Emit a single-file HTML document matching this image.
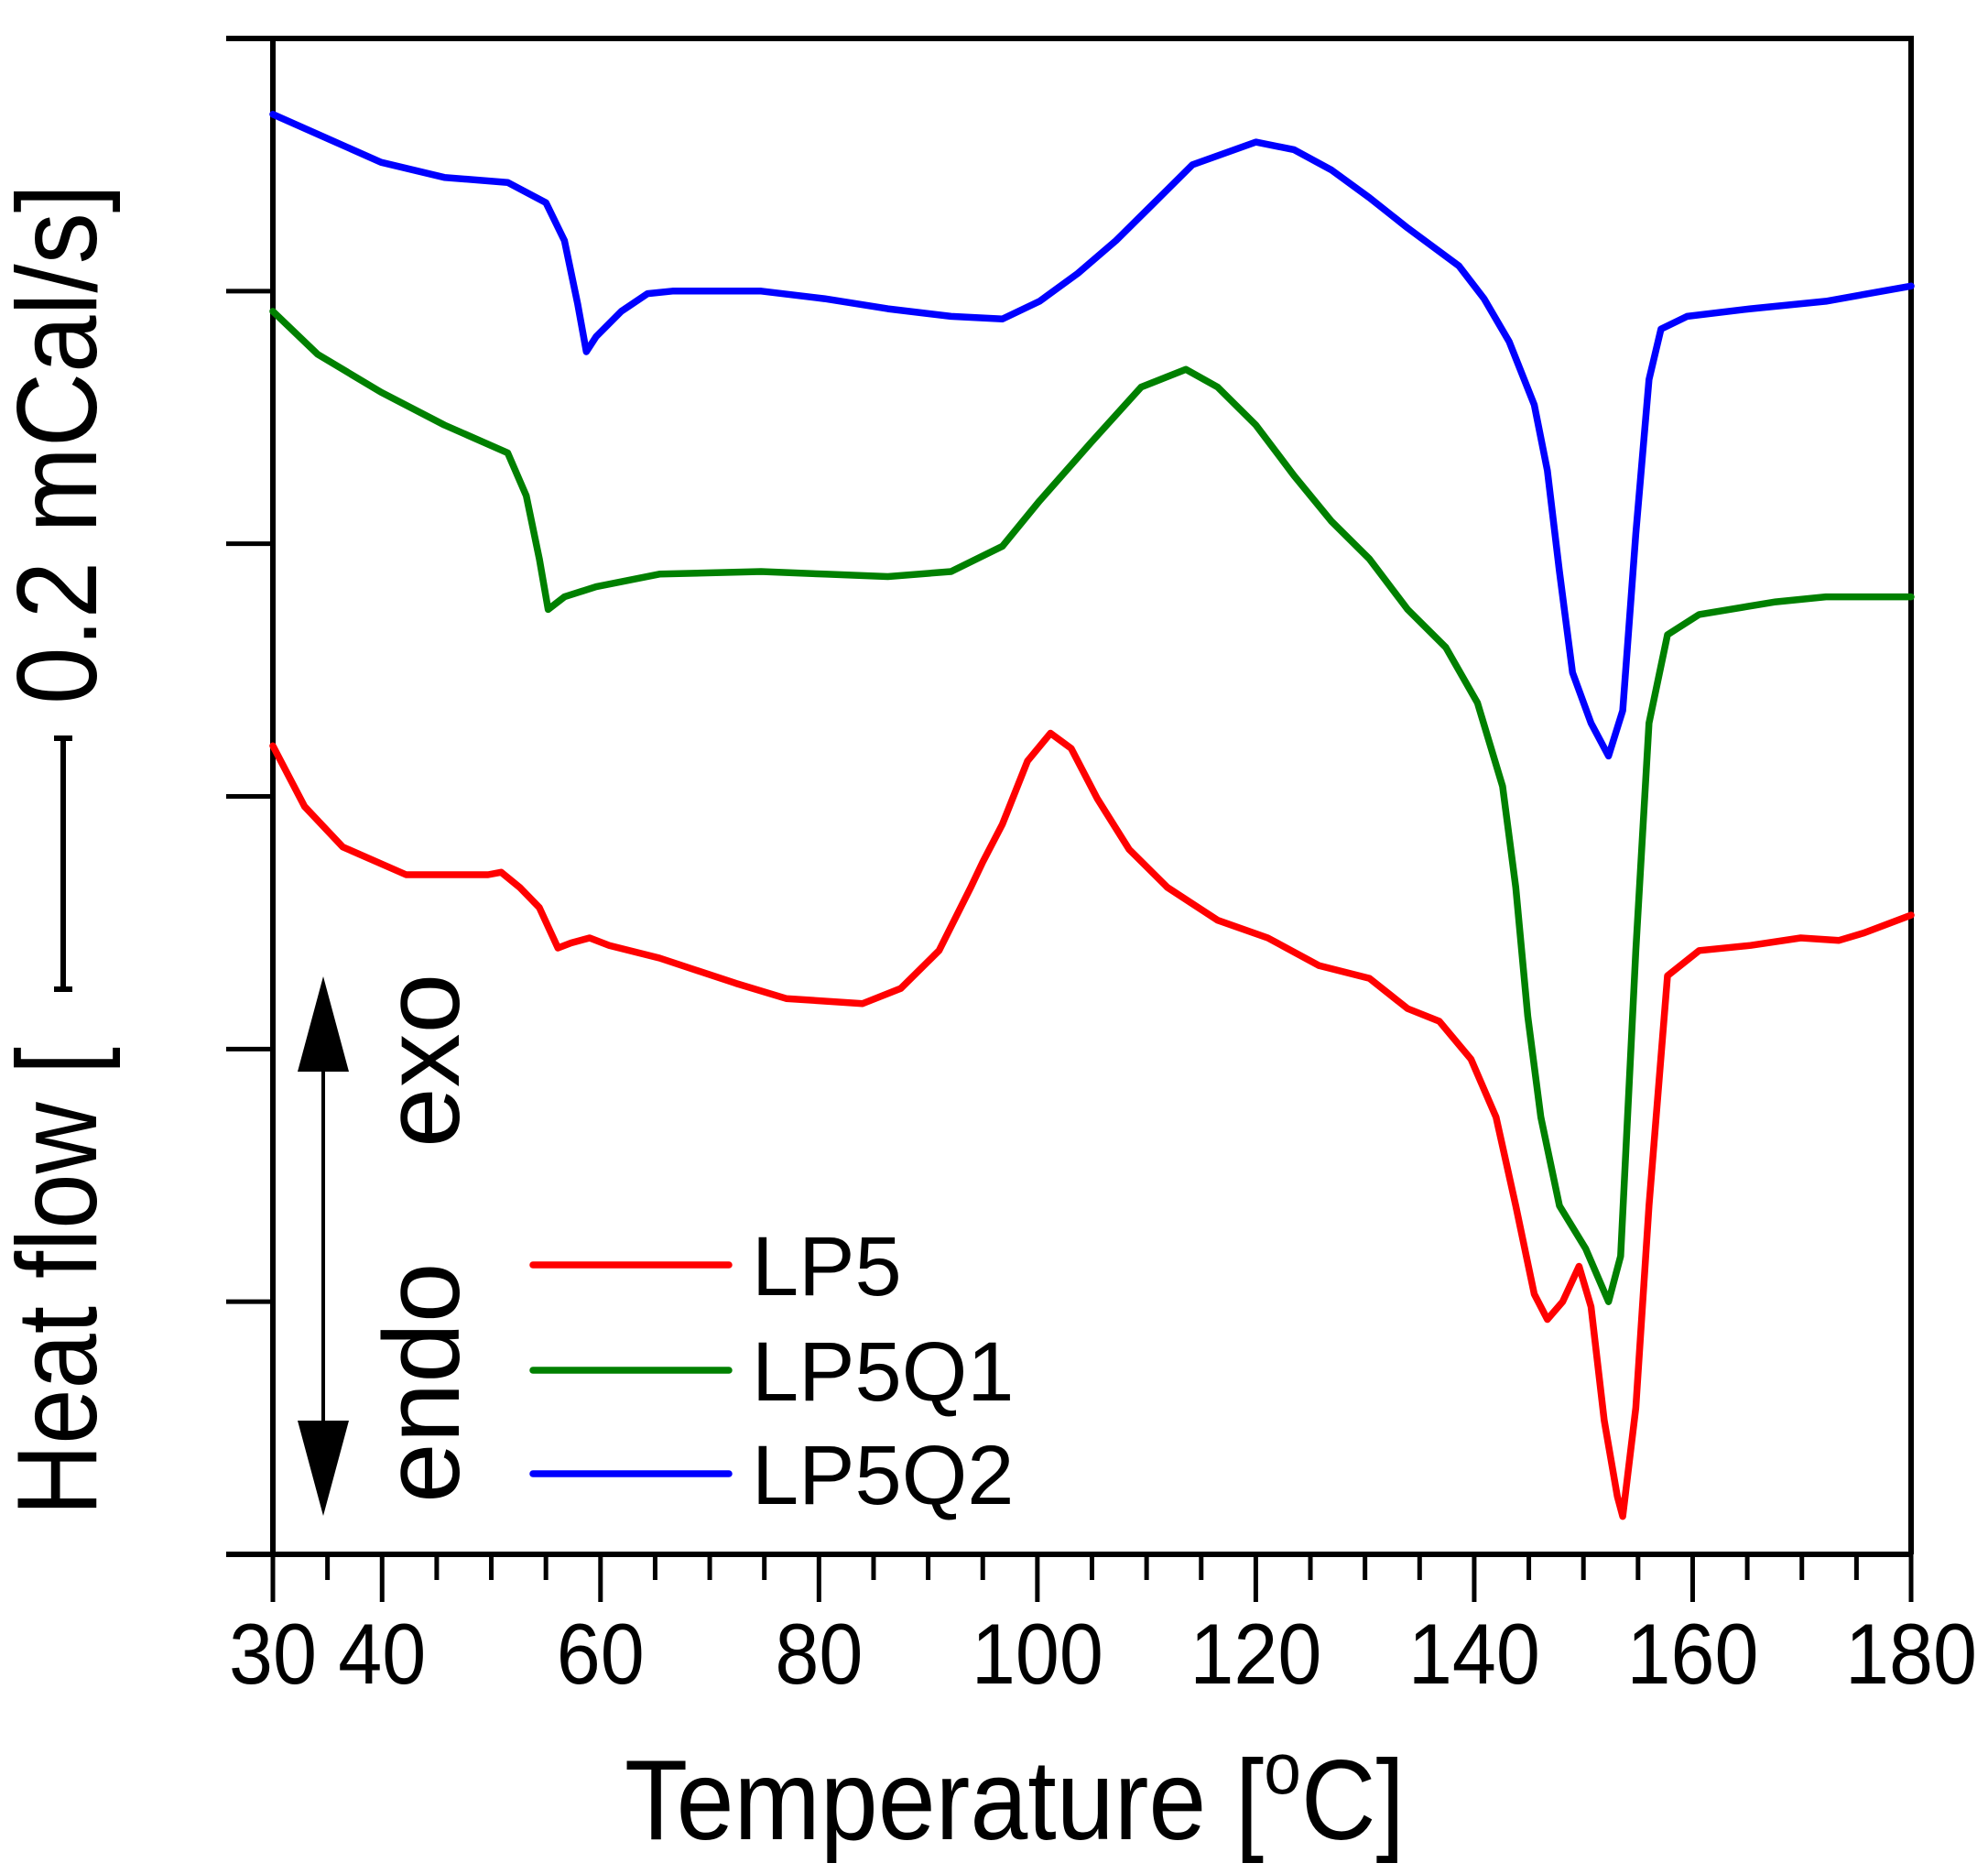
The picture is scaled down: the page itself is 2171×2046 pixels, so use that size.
<!DOCTYPE html>
<html><head><meta charset="utf-8"><style>
html,body{margin:0;padding:0;background:#fff;}
svg{display:block;}
text{font-family:"Liberation Sans",Arial,sans-serif;fill:#000;}
</style></head>
<body>
<svg id="chart" width="2171" height="2046" viewBox="0 0 2171 2046" xmlns="http://www.w3.org/2000/svg">
<g id="axes"></g>
<g id="series"></g>
<g id="labels"></g>
</svg>
<script>
const xTickMajor = [30,40,60,80,100,120,140,160,180];
const xTickLabels = ["30","40","60","80","100","120","140","160","180"];
const yTicks = [0,1,2,3,4,5,6];

const lp5T = [30,32.9,36.4,42.2,49.7,50.9,52.6,54.4,56.1,57.3,59.0,60.8,65.4,72.4,77.0,84.0,87.5,91.0,93.9,95.0,96.8,99.1,101.2,103.1,105.5,108.4,111.9,116.5,121.1,125.8,130.4,133.9,136.8,139.7,142.0,143.8,145.5,146.7,148.1,149.6,150.7,151.9,153.1,153.6,154.8,156.0,157.7,160.6,165.3,169.9,173.4,175.7,180];
const lp5V = [3.20,2.96,2.80,2.69,2.69,2.70,2.64,2.56,2.40,2.42,2.44,2.41,2.36,2.26,2.20,2.18,2.24,2.39,2.64,2.74,2.89,3.14,3.25,3.19,2.99,2.79,2.64,2.51,2.44,2.33,2.28,2.16,2.11,1.96,1.73,1.38,1.03,0.93,1.00,1.14,0.98,0.53,0.23,0.15,0.58,1.38,2.29,2.39,2.41,2.44,2.43,2.46,2.53];

const lp5q1T = [30,34.1,39.9,45.7,51.5,53.2,54.4,55.2,56.7,59.6,65.4,74.7,80.5,86.3,92.1,96.8,100.2,104.9,109.5,113.6,116.5,120.0,123.5,126.9,130.4,133.9,137.4,140.3,142.6,143.8,144.9,146.1,147.8,150.2,152.3,153.4,154.8,156.0,157.7,160.6,167.6,172.2,180];
const lp5q1V = [4.92,4.75,4.60,4.47,4.36,4.19,3.94,3.74,3.79,3.83,3.88,3.89,3.88,3.87,3.89,3.99,4.17,4.40,4.62,4.69,4.62,4.47,4.27,4.09,3.94,3.74,3.59,3.37,3.04,2.64,2.13,1.73,1.38,1.21,1.00,1.18,2.39,3.29,3.64,3.72,3.77,3.79,3.79];

const lp5q2T = [30,35.2,39.9,45.7,51.5,55.0,56.7,57.9,58.7,59.6,61.9,64.3,66.6,74.7,80.5,86.3,92.1,96.8,100.2,103.7,107.2,110.7,114.2,120.0,123.5,126.9,130.4,133.9,138.6,140.9,143.2,145.5,146.7,147.8,149.0,150.7,152.3,153.6,154.8,156.0,157.1,159.5,165.3,172.2,180];
const lp5q2V = [5.70,5.60,5.51,5.45,5.43,5.35,5.20,4.95,4.76,4.82,4.92,4.99,5.00,5.00,4.97,4.93,4.90,4.89,4.96,5.07,5.20,5.35,5.50,5.59,5.56,5.48,5.37,5.25,5.10,4.97,4.80,4.55,4.29,3.89,3.49,3.29,3.16,3.34,4.04,4.65,4.85,4.90,4.93,4.96,5.02];

const seriesNames = ["LP5","LP5Q1","LP5Q2"];
const seriesColors = ["#ff0000","#008000","#0000ff"];

const L=298,R=2087,T0=42,B=1697;
function xS(t){return L+(t-30)*(R-L)/150;}
function yS(v){return B-v*(B-T0)/6;}
const NS="http://www.w3.org/2000/svg";
function mk(tag,parent,attrs){const e=document.createElementNS(NS,tag);for(const k in attrs)e.setAttribute(k,attrs[k]);parent.appendChild(e);return e;}

const axes=document.getElementById('axes');
let frame=mk('path',axes,{d:`M247 ${T0} H${R} V${B} M${L} ${T0} V${B} M247 ${B} H${R}`,stroke:'#000','stroke-width':6,fill:'none'});


yTicks.forEach(v=>{const t=mk('line',axes,{x1:247,x2:L,y1:yS(v),y2:yS(v),stroke:'#000','stroke-width':5});

});
for(let t=35;t<180;t+=5){ if(xTickMajor.includes(t))continue;
 const e=mk('line',axes,{x1:xS(t),x2:xS(t),y1:B,y2:B+28,stroke:'#000','stroke-width':5});
 
 }
xTickMajor.forEach((t,i)=>{const e=mk('line',axes,{x1:xS(t),x2:xS(t),y1:B,y2:B+52,stroke:'#000','stroke-width':5});
 
 
 const lb=mk('text',axes,{x:xS(t),y:1838,'text-anchor':'middle','font-size':94,textLength:xTickLabels[i].length*48,lengthAdjust:'spacingAndGlyphs'});
 lb.textContent=xTickLabels[i];
 
 });

const ser=document.getElementById('series');
[[lp5T,lp5V],[lp5q1T,lp5q1V],[lp5q2T,lp5q2V]].forEach((d,i)=>{
 const pts=d[0].map((t,j)=>xS(t).toFixed(1)+','+yS(d[1][j]).toFixed(1)).join(' ');
 const p=mk('polyline',ser,{points:pts,fill:'none',stroke:seriesColors[i],'stroke-width':7.5,'stroke-linejoin':'round','stroke-linecap':'round'});
 
 
});

const lab=document.getElementById('labels');
const legY=[1381,1496,1609];
const legendOrder=[0,1,2];
legendOrder.forEach((s,i)=>{
 const l=mk('line',lab,{x1:582,x2:796,y1:legY[i],y2:legY[i],stroke:seriesColors[s],'stroke-width':7.5,'stroke-linecap':'round'});
 
 
 const tx=mk('text',lab,{x:821,y:legY[i]+33,'font-size':92});
 tx.textContent=seriesNames[s];
 
 
});
</script>
<svg style="position:absolute;left:0;top:0" width="2171" height="2046" viewBox="0 0 2171 2046" xmlns="http://www.w3.org/2000/svg">
<text x="1108" y="2008" text-anchor="middle" font-size="124" font-family="Liberation Sans, sans-serif" textLength="852" lengthAdjust="spacingAndGlyphs">Temperature [<tspan font-size="80" dy="-50">o</tspan><tspan dy="50">C]</tspan></text>
<text transform="translate(105,1655) rotate(-90)" x="0" y="0" font-size="124" font-family="Liberation Sans, sans-serif" textLength="512" lengthAdjust="spacingAndGlyphs">Heat flow [</text>
<text transform="translate(105,769) rotate(-90)" x="0" y="0" font-size="124" font-family="Liberation Sans, sans-serif" textLength="568" lengthAdjust="spacingAndGlyphs">0.2 mCal/s]</text>
<path d="M69 806 V1080 M59 806 H79 M59 1080 H79" stroke="#000" stroke-width="6" fill="none"/>
<g>
<line x1="353" y1="1120" x2="353" y2="1600" stroke="#000" stroke-width="4"/>
<polygon points="353,1066 325,1170 381,1170" fill="#000"/>
<polygon points="353,1655 325,1551 381,1551" fill="#000"/>
</g>
<text transform="translate(501,1253) rotate(-90)" font-size="118" font-family="Liberation Sans, sans-serif">exo</text>
<text transform="translate(501,1641) rotate(-90)" font-size="118" font-family="Liberation Sans, sans-serif">endo</text>
</svg>
</body></html>
